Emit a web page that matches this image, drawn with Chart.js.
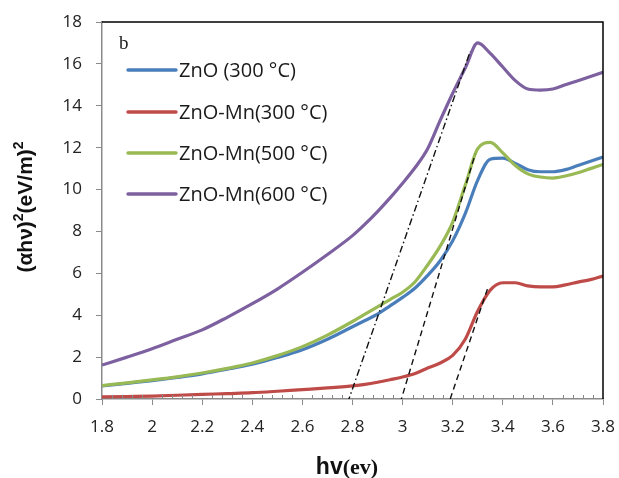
<!DOCTYPE html>
<html>
<head>
<meta charset="utf-8">
<script src="https://cdn.jsdelivr.net/npm/chart.js@4/dist/chart.umd.min.js"></script>
<style>
html,body{margin:0;padding:0;background:#fff;}
#wrap{width:619px;height:478px;}
</style>
</head>
<body>
<div id="wrap"><canvas id="c" width="619" height="478"></canvas></div>
<script>
// ---- data ----
const energy = [1.8,1.9,2.0,2.1,2.2,2.3,2.4,2.5,2.6,2.7,2.8,2.85,2.9,2.95,3.0,3.05,3.1,3.15,3.2,3.25,3.3,3.35,3.4,3.45,3.5,3.55,3.6,3.65,3.7,3.75,3.8];
const seriesNames = ['ZnO (300 °C)','ZnO-Mn(300 °C)','ZnO-Mn(500 °C)','ZnO-Mn(600 °C)'];
const zno300   = [0.62,0.75,0.88,1.03,1.2,1.42,1.66,1.98,2.35,2.85,3.45,3.75,4.05,4.45,4.85,5.3,5.9,6.6,7.55,8.85,10.45,11.45,11.5,11.25,10.95,10.85,10.85,10.95,11.15,11.35,11.55];
const znomn300 = [0.1,0.12,0.14,0.18,0.22,0.26,0.3,0.37,0.45,0.53,0.63,0.7,0.8,0.92,1.05,1.22,1.48,1.72,2.08,2.85,4.2,5.2,5.55,5.55,5.4,5.35,5.35,5.45,5.58,5.7,5.87];
const znomn500 = [0.64,0.77,0.91,1.06,1.24,1.46,1.72,2.07,2.5,3.05,3.7,4.05,4.4,4.75,5.1,5.6,6.4,7.3,8.45,10.2,11.95,12.25,11.75,11.15,10.75,10.6,10.55,10.65,10.8,11.0,11.2];
const znomn600 = [1.62,2.0,2.4,2.85,3.3,3.9,4.55,5.25,6.05,6.9,7.8,8.35,8.95,9.6,10.3,11.05,11.95,13.3,14.6,15.8,17.0,16.5,15.85,15.2,14.8,14.75,14.8,15.0,15.2,15.4,15.6];
// tangent (extrapolation) lines: [x, y] end points
const tangent600 = [[2.78,-0.2],[3.27,16.6]];
const tangent500 = [[2.99,-0.2],[3.29,11.7]];
const tangent300 = [[3.19,0.0],[3.34,5.3]];
const xTicks = [1.8,2,2.2,2.4,2.6,2.8,3,3.2,3.4,3.6,3.8];
const yTicks = [0,2,4,6,8,10,12,14,16,18];

const colors = ['#4a7ebb','#be4b48','#98b954','#7d60a0'];
const seriesValues = [zno300, znomn300, znomn500, znomn600];

const toXY = (xs, ys) => xs.map((x,i)=>({x:x,y:ys[i]}));
const toPts = arr => arr.map(p=>({x:p[0],y:p[1]}));

const datasets = seriesValues.map((vals,i)=>({
  label: seriesNames[i],
  data: toXY(energy, vals),
  borderColor: colors[i],
  backgroundColor: colors[i],
  borderWidth: 3.2,
  pointRadius: 0,
  cubicInterpolationMode: 'monotone',
  fill: false,
  isSeries: true,
  order: 4-i
}));
datasets.push({label:'t600', data: toPts(tangent600), borderColor:'#111', borderWidth:1.4, borderDash:[7,3,1.5,3], pointRadius:0, tension:0, isSeries:false});
datasets.push({label:'t500', data: toPts(tangent500), borderColor:'#111', borderWidth:1.4, borderDash:[6,4], pointRadius:0, tension:0, isSeries:false});
datasets.push({label:'t300', data: toPts(tangent300), borderColor:'#111', borderWidth:1.4, borderDash:[6,4], pointRadius:0, tension:0, isSeries:false});

function drawParts(ctx, parts, cx, cy) {
  // parts: [text, font, dy]; draws centered on cx
  let total = 0;
  parts.forEach(p => { ctx.font = p[1]; total += ctx.measureText(p[0]).width; });
  let x = cx - total/2;
  parts.forEach(p => { ctx.font = p[1]; ctx.fillText(p[0], x, cy + p[2]); x += ctx.measureText(p[0]).width; });
}

const decor = {
  id: 'decor',
  afterDatasetsDraw(chart) {
    const ctx = chart.ctx, a = chart.chartArea;
    const xs = chart.scales.x;
    ctx.save();
    // minor ticks on x axis (drawn upward)
    ctx.strokeStyle = '#8a8a8a'; ctx.lineWidth = 1;
    for (let k = 0; k <= 50; k++) {
      const v = 1.8 + k*0.04;
      if (k % 5 === 0) continue;
      const px = Math.round(xs.getPixelForValue(v)) + 0.5;
      ctx.beginPath(); ctx.moveTo(px, a.bottom); ctx.lineTo(px, a.bottom - 4); ctx.stroke();
    }
    // top & right borders
    ctx.strokeStyle = '#000'; ctx.lineWidth = 1.5;
    ctx.beginPath();
    ctx.moveTo(a.left, a.top); ctx.lineTo(a.right, a.top); ctx.lineTo(a.right, a.bottom);
    ctx.stroke();
    // legend inside plot
    ctx.font = '20px "Open Sans", sans-serif';
    ctx.textBaseline = 'middle'; ctx.textAlign = 'left';
    const rows = [70, 112, 153, 194];
    chart.data.datasets.filter(d=>d.isSeries).forEach((d,i)=>{
      ctx.strokeStyle = d.borderColor; ctx.lineWidth = 3.4; ctx.lineCap='round';
      ctx.beginPath(); ctx.moveTo(128, rows[i]); ctx.lineTo(176, rows[i]); ctx.stroke();
      ctx.fillStyle = '#1a1a1a';
      ctx.fillText(d.label, 179, rows[i] + 1);
    });
    // panel letter
    ctx.font = '19px "Liberation Serif", serif';
    ctx.fillStyle = '#222';
    ctx.fillText('b', 119, 44);
    // y axis title with superscripts
    ctx.save();
    ctx.translate(32, 207);
    ctx.rotate(-Math.PI/2);
    ctx.textAlign = 'left';
    ctx.textBaseline = 'alphabetic';
    ctx.fillStyle = '#111';
    const fMain = 'bold 21px "Liberation Sans", Arial, sans-serif';
    const fSup = 'bold 14px "Liberation Sans", Arial, sans-serif';
    drawParts(ctx, [['(αhν)', fMain, 0], ['2', fSup, -9], ['(eV/m)', fMain, 0], ['2', fSup, -9]], 0, 0);
    ctx.restore();
    // x axis title: "hv" sans bold + "(ev)" serif bold
    ctx.fillStyle = '#111';
    ctx.textAlign = 'left';
    ctx.textBaseline = 'alphabetic';
    drawParts(ctx, [['hv', 'bold 23px "Liberation Sans", Arial, sans-serif', 0], ['(ev)', 'bold 22px "Liberation Serif", serif', 0]], 347, 474);
    ctx.restore();
  }
};

new Chart(document.getElementById('c'), {
  type: 'line',
  data: { datasets },
  options: {
    responsive: false,
    animation: false,
    layout: { autoPadding: false, padding: { left: 0, right: 16, top: 22, bottom: 0 } },
    plugins: { legend: { display: false }, tooltip: { enabled: false }, title: { display: false } },
    scales: {
      x: {
        type: 'linear', min: 1.8, max: 3.8,
        afterBuildTicks: s => { s.ticks = xTicks.map(v=>({value:v})); },
        afterFit: s => { s.height = 79; s.paddingLeft = 0; s.paddingRight = 0; },
        ticks: { font: { size: 17, family: '"Open Sans", sans-serif' }, color: '#222', padding: 12,
                 callback: v => String(Math.round(v*10)/10) },
        grid: { drawOnChartArea: false, drawTicks: true, tickLength: 6, color: '#8a8a8a' },
        border: { color: '#8a8a8a', width: 1.5 }
      },
      y: {
        type: 'linear', min: 0, max: 18,
        afterBuildTicks: s => { s.ticks = yTicks.map(v=>({value:v})); },
        afterFit: s => { s.width = 102; s.paddingTop = 0; s.paddingBottom = 0; },
        ticks: { font: { size: 17, family: '"Open Sans", sans-serif' }, color: '#222', padding: 14 },
        grid: { drawOnChartArea: false, drawTicks: true, tickLength: 6, color: '#8a8a8a' },
        border: { color: '#8a8a8a', width: 1.5 }
      }
    }
  },
  plugins: [decor]
});
</script>
</body>
</html>
